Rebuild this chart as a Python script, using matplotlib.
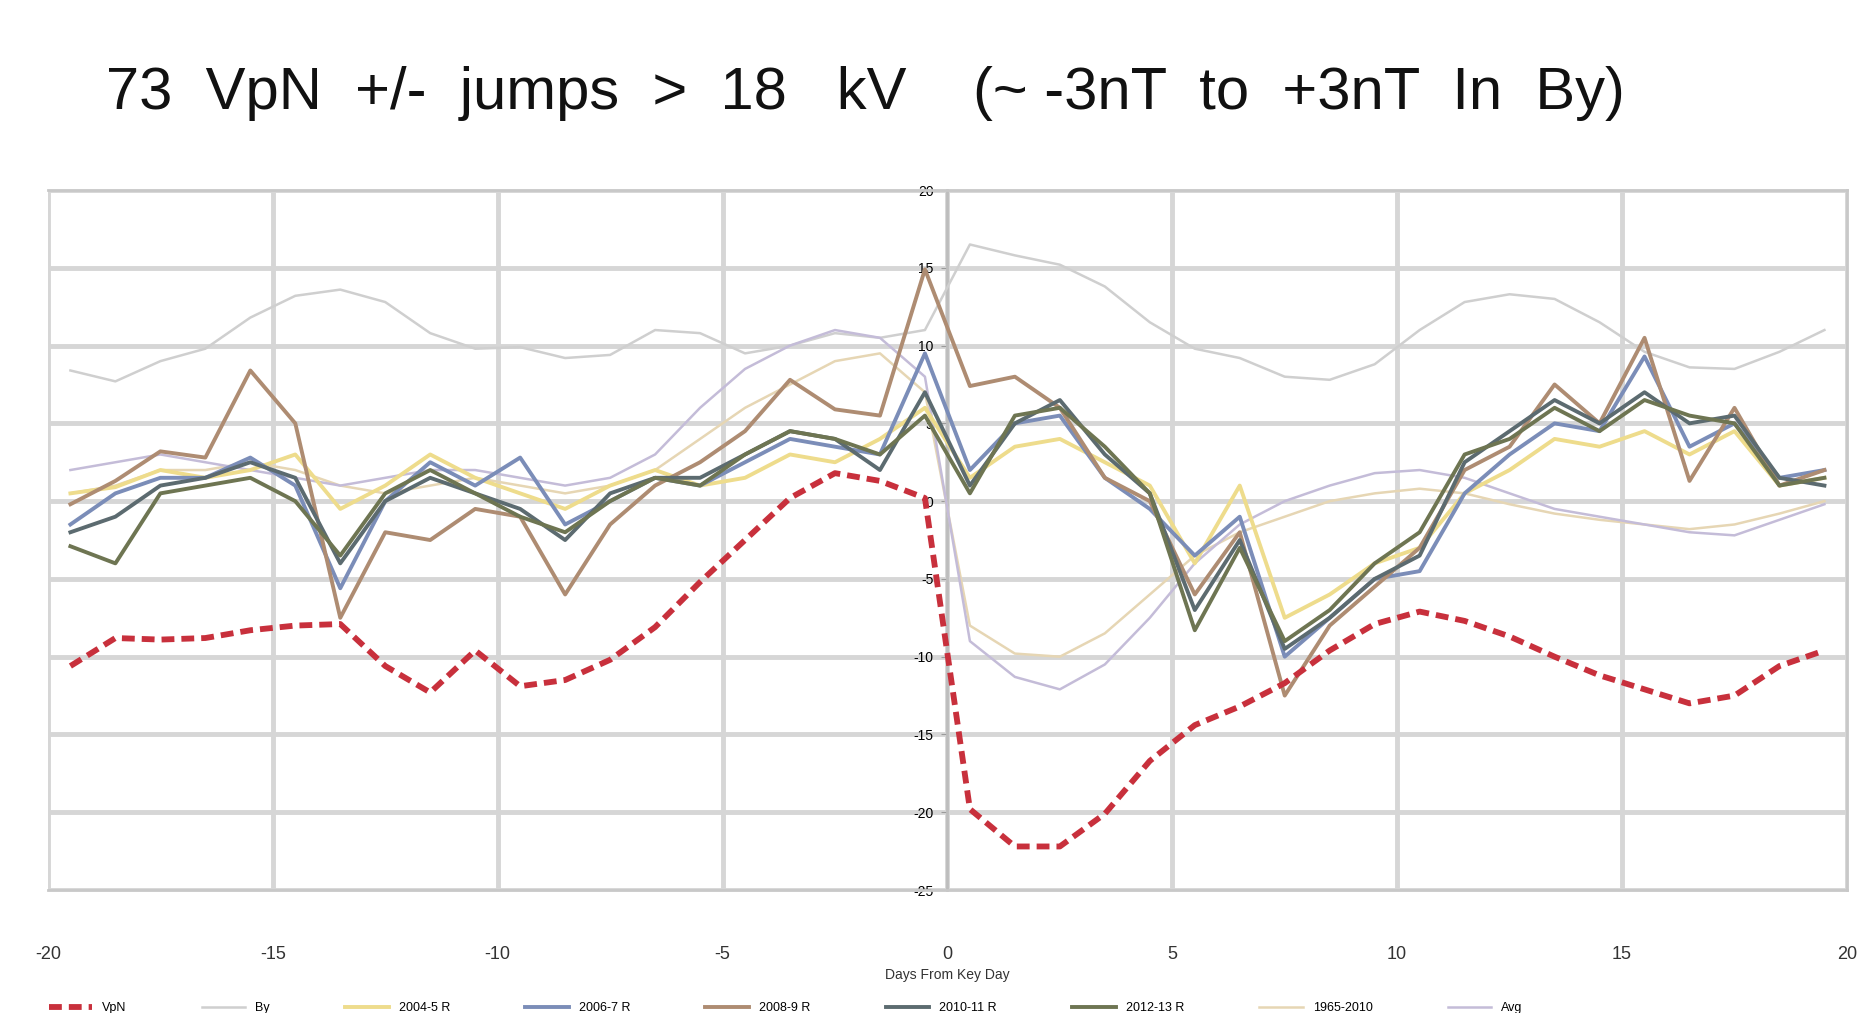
import matplotlib
matplotlib.use("Agg")
import matplotlib.pyplot as plt
import numpy as np

plt.rcParams['font.family'] = ['Liberation Sans', 'DejaVu Sans']

days = [d + 0.5 for d in range(-20, 20)]

vpn = [-10.6, -8.8, -8.9, -8.8, -8.3, -8.0, -7.9, -10.6, -12.3, -9.6,
       -11.9, -11.5, -10.2, -8.1, -5.2, -2.5, 0.2, 1.8, 1.3, 0.2,
       -19.8, -22.2, -22.2, -20.1, -16.7, -14.4, -13.2, -11.7, -9.6, -7.9,
       -7.1, -7.7, -8.7, -10.0, -11.2, -12.1, -13.0, -12.5, -10.6, -9.6]

grey_smooth = [8.4, 7.7, 9.0, 9.8, 11.8, 13.2, 13.6, 12.8, 10.8, 9.8,
               9.9, 9.2, 9.4, 11.0, 10.8, 9.5, 10.0, 10.8, 10.5, 11.0,
               16.5, 15.8, 15.2, 13.8, 11.5, 9.8, 9.2, 8.0, 7.8, 8.8,
               11.0, 12.8, 13.3, 13.0, 11.5, 9.6, 8.6, 8.5, 9.6, 11.0]

yellow = [0.5, 0.9, 2.0, 1.5, 2.0, 3.0, -0.5, 1.0, 3.0, 1.5,
          0.5, -0.5, 1.0, 2.0, 1.0, 1.5, 3.0, 2.5, 4.0, 6.0,
          1.5, 3.5, 4.0, 2.5, 1.0, -4.0, 1.0, -7.5, -6.0, -4.0,
          -3.0, 0.5, 2.0, 4.0, 3.5, 4.5, 3.0, 4.5, 1.0, 1.5]

blue = [-1.5, 0.5, 1.5, 1.5, 2.8, 1.0, -5.6, 0.0, 2.5, 1.0,
        2.8, -1.5, 0.0, 1.5, 1.0, 2.5, 4.0, 3.5, 3.0, 9.5,
        2.0, 5.0, 5.5, 1.5, -0.5, -3.5, -1.0, -10.0, -7.5, -5.0,
        -4.5, 0.5, 3.0, 5.0, 4.5, 9.3, 3.5, 5.0, 1.5, 2.0]

brown = [-0.2, 1.3, 3.2, 2.8, 8.4, 5.0, -7.5, -2.0, -2.5, -0.5,
         -1.0, -6.0, -1.5, 1.0, 2.5, 4.5, 7.8, 5.9, 5.5, 14.9,
         7.4, 8.0, 6.0, 1.5, 0.0, -6.0, -2.0, -12.5, -8.0, -5.5,
         -3.0, 2.0, 3.5, 7.5, 5.0, 10.5, 1.3, 6.0, 1.0, 2.0]

slate = [-2.0, -1.0, 1.0, 1.5, 2.5, 1.5, -4.0, 0.0, 1.5, 0.5,
         -0.5, -2.5, 0.5, 1.5, 1.5, 3.0, 4.5, 4.0, 2.0, 7.0,
         1.0, 5.0, 6.5, 3.0, 0.5, -7.0, -2.5, -9.5, -7.5, -5.0,
         -3.5, 2.5, 4.5, 6.5, 5.0, 7.0, 5.0, 5.5, 1.5, 1.0]

olive = [-2.9, -4.0, 0.5, 1.0, 1.5, 0.0, -3.5, 0.5, 2.0, 0.5,
         -1.0, -2.0, 0.0, 1.5, 1.0, 3.0, 4.5, 4.0, 3.0, 5.5,
         0.5, 5.5, 6.0, 3.5, 0.5, -8.3, -3.0, -9.0, -7.0, -4.0,
         -2.0, 3.0, 4.0, 6.0, 4.5, 6.5, 5.5, 5.0, 1.0, 1.5]

lavender = [2.0, 2.5, 3.0, 2.5, 2.0, 1.5, 1.0, 1.5, 2.0, 2.0,
            1.5, 1.0, 1.5, 3.0, 6.0, 8.5, 10.0, 11.0, 10.5, 8.0,
            -9.0, -11.3, -12.1, -10.5, -7.5, -4.0, -1.5, 0.0, 1.0, 1.8,
            2.0, 1.5, 0.5, -0.5, -1.0, -1.5, -2.0, -2.2, -1.2, -0.2]

beige = [0.5, 1.0, 2.0, 2.0, 2.5, 2.0, 1.0, 0.5, 1.0, 1.5,
         1.0, 0.5, 1.0, 2.0, 4.0, 6.0, 7.5, 9.0, 9.5, 7.0,
         -8.0, -9.8, -10.0, -8.5, -6.0, -3.5, -2.0, -1.0, 0.0, 0.5,
         0.8, 0.5, -0.2, -0.8, -1.2, -1.5, -1.8, -1.5, -0.8, 0.0]

labels = ["VpN", "By", "2004-5 R", "2006-7 R", "2008-9 R",
          "2010-11 R", "2012-13 R", "1965-2010", "Avg"]

xticks = [-20, -15, -10, -5, 0, 5, 10, 15, 20]
yticks = [20, 15, 10, 5, 0, -5, -10, -15, -20, -25]

fig = plt.figure(figsize=(18.65, 10.13), dpi=100)
ax = fig.add_axes([0.0257, 0.1214, 0.9646, 0.691])

ax.set_xlim(-20, 20)
ax.set_ylim(-25, 20)

ax.plot(days, grey_smooth, color='#cfcfcf', lw=1.8, label=labels[1], zorder=3)
ax.plot(days, beige, color='#e6d6b4', lw=1.8, label=labels[7], zorder=3)
ax.plot(days, lavender, color='#c4bcd8', lw=1.8, label=labels[8], zorder=3)
ax.plot(days, yellow, color='#eedc8c', lw=2.8, label=labels[2], zorder=4)
ax.plot(days, blue, color='#7b8db8', lw=2.8, label=labels[3], zorder=4)
ax.plot(days, brown, color='#ae8c72', lw=2.8, label=labels[4], zorder=4)
ax.plot(days, slate, color='#5c6b70', lw=2.8, label=labels[5], zorder=5)
ax.plot(days, olive, color='#6e7552', lw=2.8, label=labels[6], zorder=5)
ax.plot(days, vpn, color='#c8303c', lw=4.2, ls=(0, (2.2, 1.2)), label=labels[0], zorder=6)

ax.set_xticks(xticks)
ax.set_yticks(yticks)
ax.set_xticklabels([str(v) for v in xticks], fontsize=13, color='#333333')
ax.set_yticklabels([str(v) for v in yticks], fontsize=9, color='#333333')
ax.grid(True, color='#d6d6d6', lw=3.5, zorder=0)
ax.set_axisbelow(True)

ax.spines['left'].set_position(('data', 0))
ax.spines['left'].set_color('#bdbdbd')
ax.spines['left'].set_linewidth(2)
for s in ['top', 'right', 'bottom']:
    ax.spines[s].set_color('#c8c8c8')
    ax.spines[s].set_linewidth(2)
ax.tick_params(axis='y', length=4, color='#9a9a9a', pad=6)
ax.tick_params(axis='x', length=0, pad=40)
ax.set_xlabel("Days From Key Day", fontsize=10, color='#333333', labelpad=4)

fig.text(0.057, 0.908, "73  VpN  +/-  jumps  >  18   kV    (~ -3nT  to  +3nT  In  By)",
         fontsize=43, color='#111111', va='center', ha='left')

handles, labs = ax.get_legend_handles_labels()
order = [8, 0, 3, 4, 5, 6, 7, 1, 2]
fig.legend([handles[i] for i in order], [labs[i] for i in order],
           loc='lower left', bbox_to_anchor=(0.02, -0.012), ncol=9, frameon=False,
           fontsize=9, handlelength=3.5, columnspacing=6)

fig.savefig("out.png", dpi=100)
